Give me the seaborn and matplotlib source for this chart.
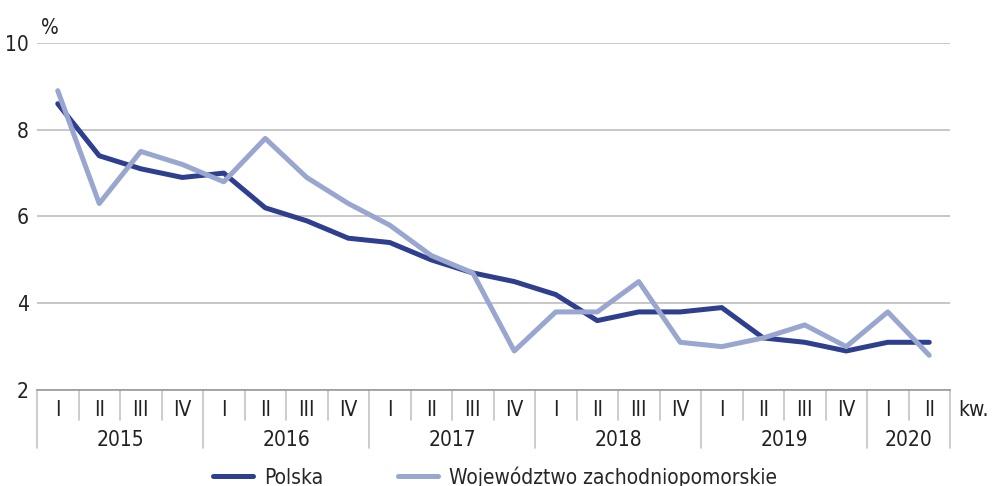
import pandas as pd
import matplotlib
matplotlib.use("Agg")
import matplotlib.pyplot as plt
import seaborn as sns

# dane kwartalne
years = ["2015", "2016", "2017", "2018", "2019", "2020"]
quarters_per_year = [4, 4, 4, 4, 4, 2]
quarter_names = ["I", "II", "III", "IV"]
polska = [8.6, 7.4, 7.1, 6.9, 7.0, 6.2, 5.9, 5.5, 5.4, 5.0, 4.7, 4.5,
          4.2, 3.6, 3.8, 3.8, 3.9, 3.2, 3.1, 2.9, 3.1, 3.1]
zachpom = [8.9, 6.3, 7.5, 7.2, 6.8, 7.8, 6.9, 6.3, 5.8, 5.1, 4.7, 2.9,
           3.8, 3.8, 4.5, 3.1, 3.0, 3.2, 3.5, 3.0, 3.8, 2.8]
series_names = ["Polska", "Województwo zachodniopomorskie"]
colors = ["#2e3f8f", "#99a6cf"]

quarter_labels = []
for n in quarters_per_year:
    quarter_labels += quarter_names[:n]
x = list(range(len(quarter_labels)))

df = pd.DataFrame({
    "x": x * 2,
    "value": polska + zachpom,
    "seria": [series_names[0]] * len(x) + [series_names[1]] * len(x),
})

sns.set_style("white")
plt.rcParams['font.family'] = ['DejaVu Sans']
plt.rcParams['font.stretch'] = 'condensed'
plt.rcParams['font.size'] = 15

fig = plt.figure(figsize=(9.92, 4.86), dpi=100)
ax = fig.add_axes([37 / 992, 1 - 390 / 486, 913 / 992, 347 / 486])

sns.lineplot(data=df, x="x", y="value", hue="seria", palette=colors,
             linewidth=3.6, ax=ax, legend=False)

ax.set_xlim(-0.5, len(x) - 0.5)
ax.set_ylim(2, 10)
ax.set_yticks([2, 4, 6, 8, 10])
ax.tick_params(axis="y", length=0, pad=6, labelsize=15, colors="#222222")
ax.set_xticks([])
ax.set_xlabel("")
ax.set_ylabel("")
for s in ["top", "right", "left"]:
    ax.spines[s].set_visible(False)
ax.spines["bottom"].set_color("#9a9a9a")
ax.spines["bottom"].set_linewidth(1.2)
ax.grid(axis="y", color="#bdbdbd", linewidth=1.2)
ax.set_axisbelow(True)

ax.text(-0.2, 10.12, "%", fontsize=15, color="#222222", ha="center", va="bottom")

# tabela pod osią: kwartały i lata
tr = ax.get_xaxis_transform()
sep_color = "#c4c4c4"
for i, lab in enumerate(quarter_labels):
    ax.text(i, -0.058, lab, transform=tr, ha="center", va="center",
            fontsize=15, color="#222222")
pos = -0.5
bounds = [pos]
for y, n in zip(years, quarters_per_year):
    ax.text(pos + n / 2, -0.143, y, transform=tr, ha="center", va="center",
            fontsize=15, color="#222222")
    pos += n
    bounds.append(pos)
for b in range(len(x) + 1):
    xb = b - 0.5
    y_end = -0.167 if xb in bounds else -0.087
    ax.plot([xb, xb], [0, y_end], transform=tr, color=sep_color,
            linewidth=1.2, clip_on=False)
ax.text(len(x) - 0.5 + 0.2, -0.058, "kw.", transform=tr, ha="left",
        va="center", fontsize=15, color="#222222")

# legenda
handles = [plt.Line2D([], [], color=c, linewidth=3.6) for c in colors]
fig.legend(handles, series_names, loc="center left",
           bbox_to_anchor=(213 / 992, 1 - 477 / 486), ncol=2, frameon=False,
           handlelength=1.9, handletextpad=0.55, columnspacing=3.6,
           fontsize=15, borderaxespad=0, borderpad=0)

fig.savefig("out.png", dpi=100)
